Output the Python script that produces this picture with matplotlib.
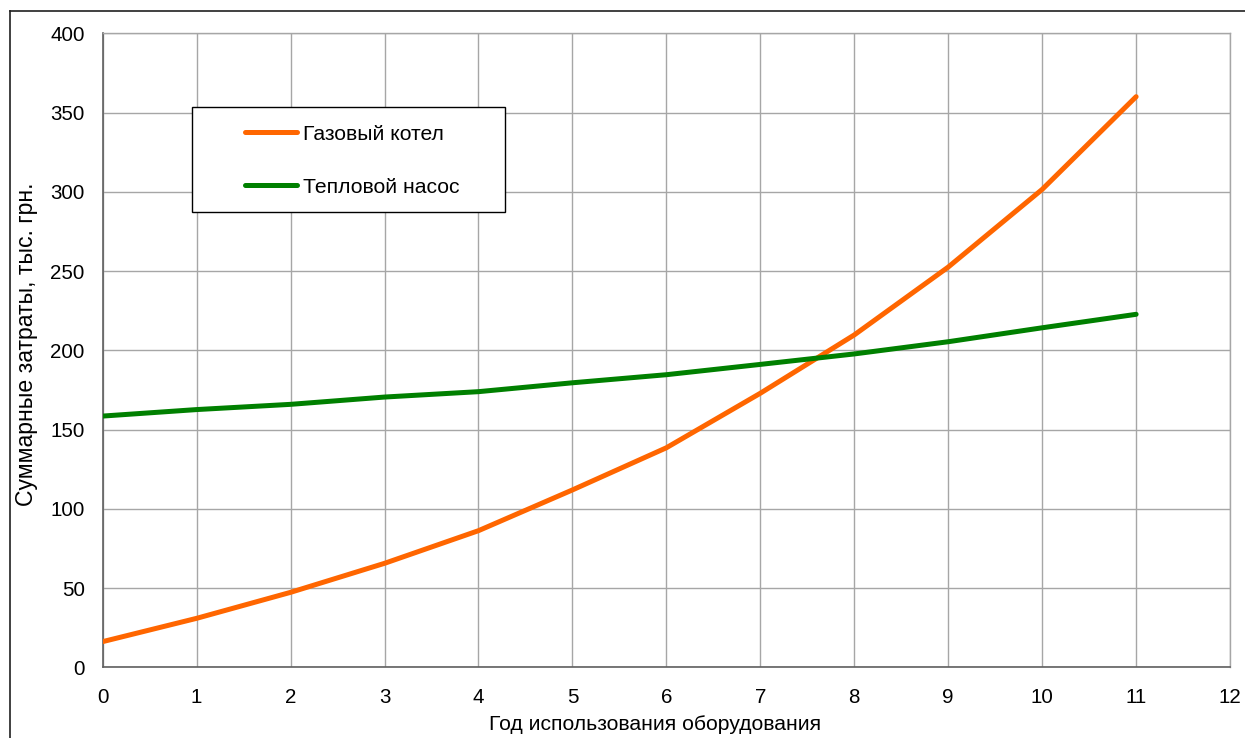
import matplotlib.pyplot as plt
from matplotlib.patches import Rectangle
from matplotlib.lines import Line2D

plt.rcParams['font.family'] = ['Liberation Sans', 'DejaVu Sans']

years = [0, 1, 2, 3, 4, 5, 6, 7, 8, 9, 10, 11]
gas_boiler = [16.2, 30.9, 47.3, 65.6, 86.2, 111.9, 138.5, 172.9, 209.7, 252.5, 301.5, 360.0]
heat_pump = [158.5, 162.6, 165.9, 170.5, 173.9, 179.5, 184.6, 191.1, 197.7, 205.4, 214.2, 222.7]

gas_label = 'Газовый котел'
pump_label = 'Тепловой насос'
x_title = 'Год использования оборудования'
y_title = 'Суммарные затраты, тыс. грн.'

fig = plt.figure(figsize=(12.45, 7.38), dpi=100)
ax = fig.add_axes([0.0825, 0.0958, 0.9055, 0.8591])

# outer chart border (only top and left visible in the crop)
fig.add_artist(Line2D([10 / 1245, 1.0], [1 - 11 / 738] * 2, color='#202020', lw=1.2))
fig.add_artist(Line2D([10 / 1245] * 2, [0.0, 1 - 11 / 738], color='#202020', lw=1.2))

ax.plot(years, gas_boiler, color='#FF6600', lw=3.6, solid_capstyle='round', label=gas_label, zorder=3)
ax.plot(years, heat_pump, color='#008000', lw=3.6, solid_capstyle='round', label=pump_label, zorder=3)

ax.set_xlim(0, 12)
ax.set_ylim(0, 400)
ax.set_xticks(range(0, 13))
ax.set_yticks(range(0, 401, 50))
ax.grid(True, color='#a6a6a6', lw=1.0)
ax.set_axisbelow(True)
ax.tick_params(length=0, labelsize=14.8)
ax.tick_params(axis='x', pad=15)
ax.tick_params(axis='y', pad=13)

for side in ['top', 'right']:
    ax.spines[side].set_color('#a6a6a6')
    ax.spines[side].set_linewidth(1.0)
for side in ['left', 'bottom']:
    ax.spines[side].set_color('#606060')
    ax.spines[side].set_linewidth(1.2)

ax.set_xlabel(x_title, fontsize=15.2, labelpad=6, x=0.49)
ax.set_ylabel(y_title, fontsize=16.6, labelpad=9, y=0.51)

# legend box drawn by hand, legend itself without frame
ax.add_patch(Rectangle((0.0792, 0.718), 0.2777, 0.1656, transform=ax.transAxes,
                       facecolor='white', edgecolor='black', lw=1.0, zorder=4))
ax.legend(loc='center left', bbox_to_anchor=(0.1262, 0.799), frameon=False,
          fontsize=15.2, handlelength=2.46, handletextpad=0.28, labelspacing=1.62,
          borderpad=0, borderaxespad=0)

fig.savefig('out.png', dpi=100)
